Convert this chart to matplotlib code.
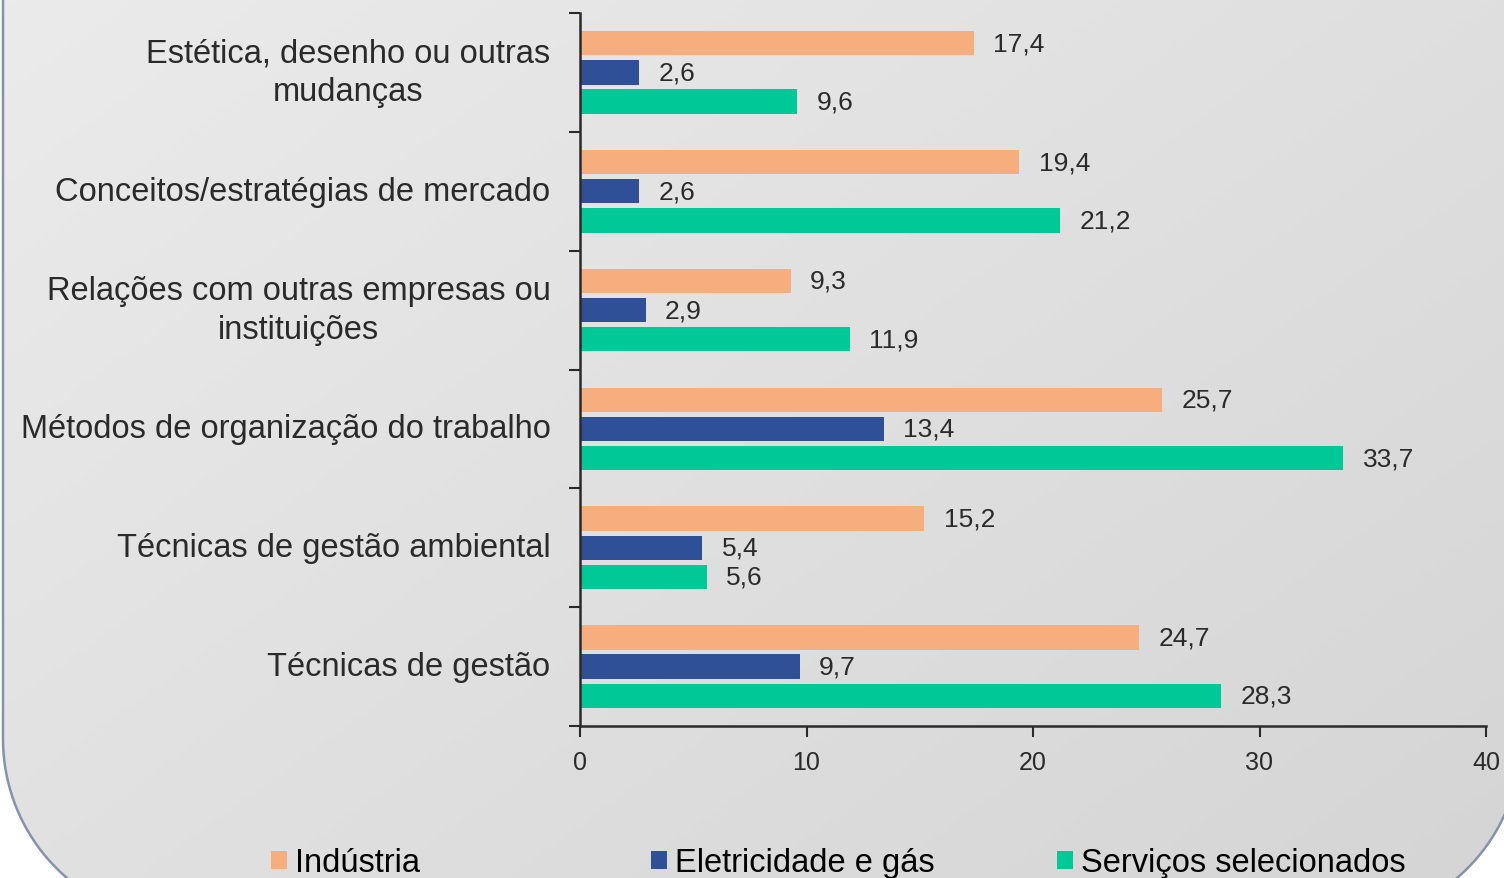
import numpy as np
import matplotlib.pyplot as plt
from matplotlib.patches import PathPatch, Patch
from matplotlib.path import Path
from matplotlib.colors import LinearSegmentedColormap

# ==========================
# Data
# ==========================
categories = [
    "Estética, desenho ou outras\nmudanças",
    "Conceitos/estratégias de mercado",
    "Relações com outras empresas ou\ninstituições",
    "Métodos de organização do trabalho",
    "Técnicas de gestão ambiental",
    "Técnicas de gestão",
]
series_names = ["Indústria", "Eletricidade e gás", "Serviços selecionados"]
industria = [17.4, 19.4, 9.3, 25.7, 15.2, 24.7]
eletricidade = [2.6, 2.6, 2.9, 13.4, 5.4, 9.7]
servicos = [9.6, 21.2, 11.9, 33.7, 5.6, 28.3]
x_ticks = [0, 10, 20, 30, 40]

colors = ["#F7AE7E", "#2F4F96", "#00C896"]
plt.rcParams["font.family"] = ["Liberation Sans", "DejaVu Sans"]
TXT = "#2a2a2a"

W, H = 1504, 879
fig = plt.figure(figsize=(W / 100, H / 100), dpi=100)
fig.patch.set_facecolor("white")

# ==========================
# Rounded panel with gradient (only bottom corners visible)
# ==========================
bg = fig.add_axes([0, 0, 1, 1])
bg.set_xlim(0, W)
bg.set_ylim(0, H)
bg.axis("off")

r = 183
x0, x1, yb = 3, 1521, -44
t1 = np.linspace(np.pi, 1.5 * np.pi, 40)
t2 = np.linspace(1.5 * np.pi, 2 * np.pi, 40)
pts = [(x0, H + 50)]
pts += list(zip(x0 + r + r * np.cos(t1), yb + r + r * np.sin(t1)))
pts += list(zip(x1 - r + r * np.cos(t2), yb + r + r * np.sin(t2)))
pts += [(x1, H + 50)]
panel = PathPatch(Path(pts), facecolor="none", edgecolor="#8593AA",
                  linewidth=1.8, zorder=3)
bg.add_patch(panel)

cmap = LinearSegmentedColormap.from_list("panel", ["#ebebeb", "#d5d5d5"])
gx, gy = np.meshgrid(np.linspace(0, 1, 200), np.linspace(0, 1, 120))
grad = 0.55 * gx + 0.45 * (1 - gy)
img = bg.imshow(grad, extent=(0, W, 0, H), origin="lower", cmap=cmap,
                vmin=0, vmax=1, aspect="auto", zorder=1)
img.set_clip_path(panel)

# ==========================
# Bars
# ==========================
ax = fig.add_axes([580 / W, 1 - 727 / H, 906 / W, 713 / H])
ax.set_facecolor("none")

y = np.arange(len(categories))
offset = 0.245
height = 0.205
all_vals = [industria, eletricidade, servicos]
for i, vals in enumerate(all_vals):
    ypos = y + (i - 1) * offset
    ax.barh(ypos, vals, height=height, color=colors[i], label=series_names[i], zorder=2)
    for yy, v in zip(ypos, vals):
        ax.text(v + 0.85, yy, f"{v:.1f}".replace(".", ","), va="center", ha="left",
                fontsize=19, color=TXT)

ax.set_xlim(0, 40)
ax.set_ylim(len(categories) - 0.5, -0.5)
ax.set_xticks(x_ticks)
ax.set_xticklabels([str(t) for t in x_ticks], fontsize=18, color=TXT)
ax.set_yticks(np.arange(len(categories) + 1) - 0.5)
ax.set_yticklabels([])
ax.tick_params(axis="y", length=8, width=1.5, color=TXT)
ax.tick_params(axis="x", length=8, width=1.5, color=TXT, pad=9)
for yy, name in zip(y, categories):
    ax.text(-1.3, yy, name, ha="right", va="center", multialignment="center",
            fontsize=23.5, color=TXT, linespacing=1.3)

for s in ["top", "right"]:
    ax.spines[s].set_visible(False)
for s in ["left", "bottom"]:
    ax.spines[s].set_linewidth(1.8)
    ax.spines[s].set_color(TXT)

# ==========================
# Legend
# ==========================
leg_x = [271 / W, 651 / W, 1057 / W]
for i in range(3):
    h = Patch(facecolor=colors[i], edgecolor="none")
    fig.legend(handles=[h], labels=[series_names[i]], loc="center left",
               bbox_to_anchor=(leg_x[i], 1 - 864 / H), frameon=False,
               fontsize=23.5, handlelength=0.5, handleheight=0.5,
               handletextpad=0.25, borderaxespad=0, borderpad=0)

fig.savefig("out.png", dpi=100)
